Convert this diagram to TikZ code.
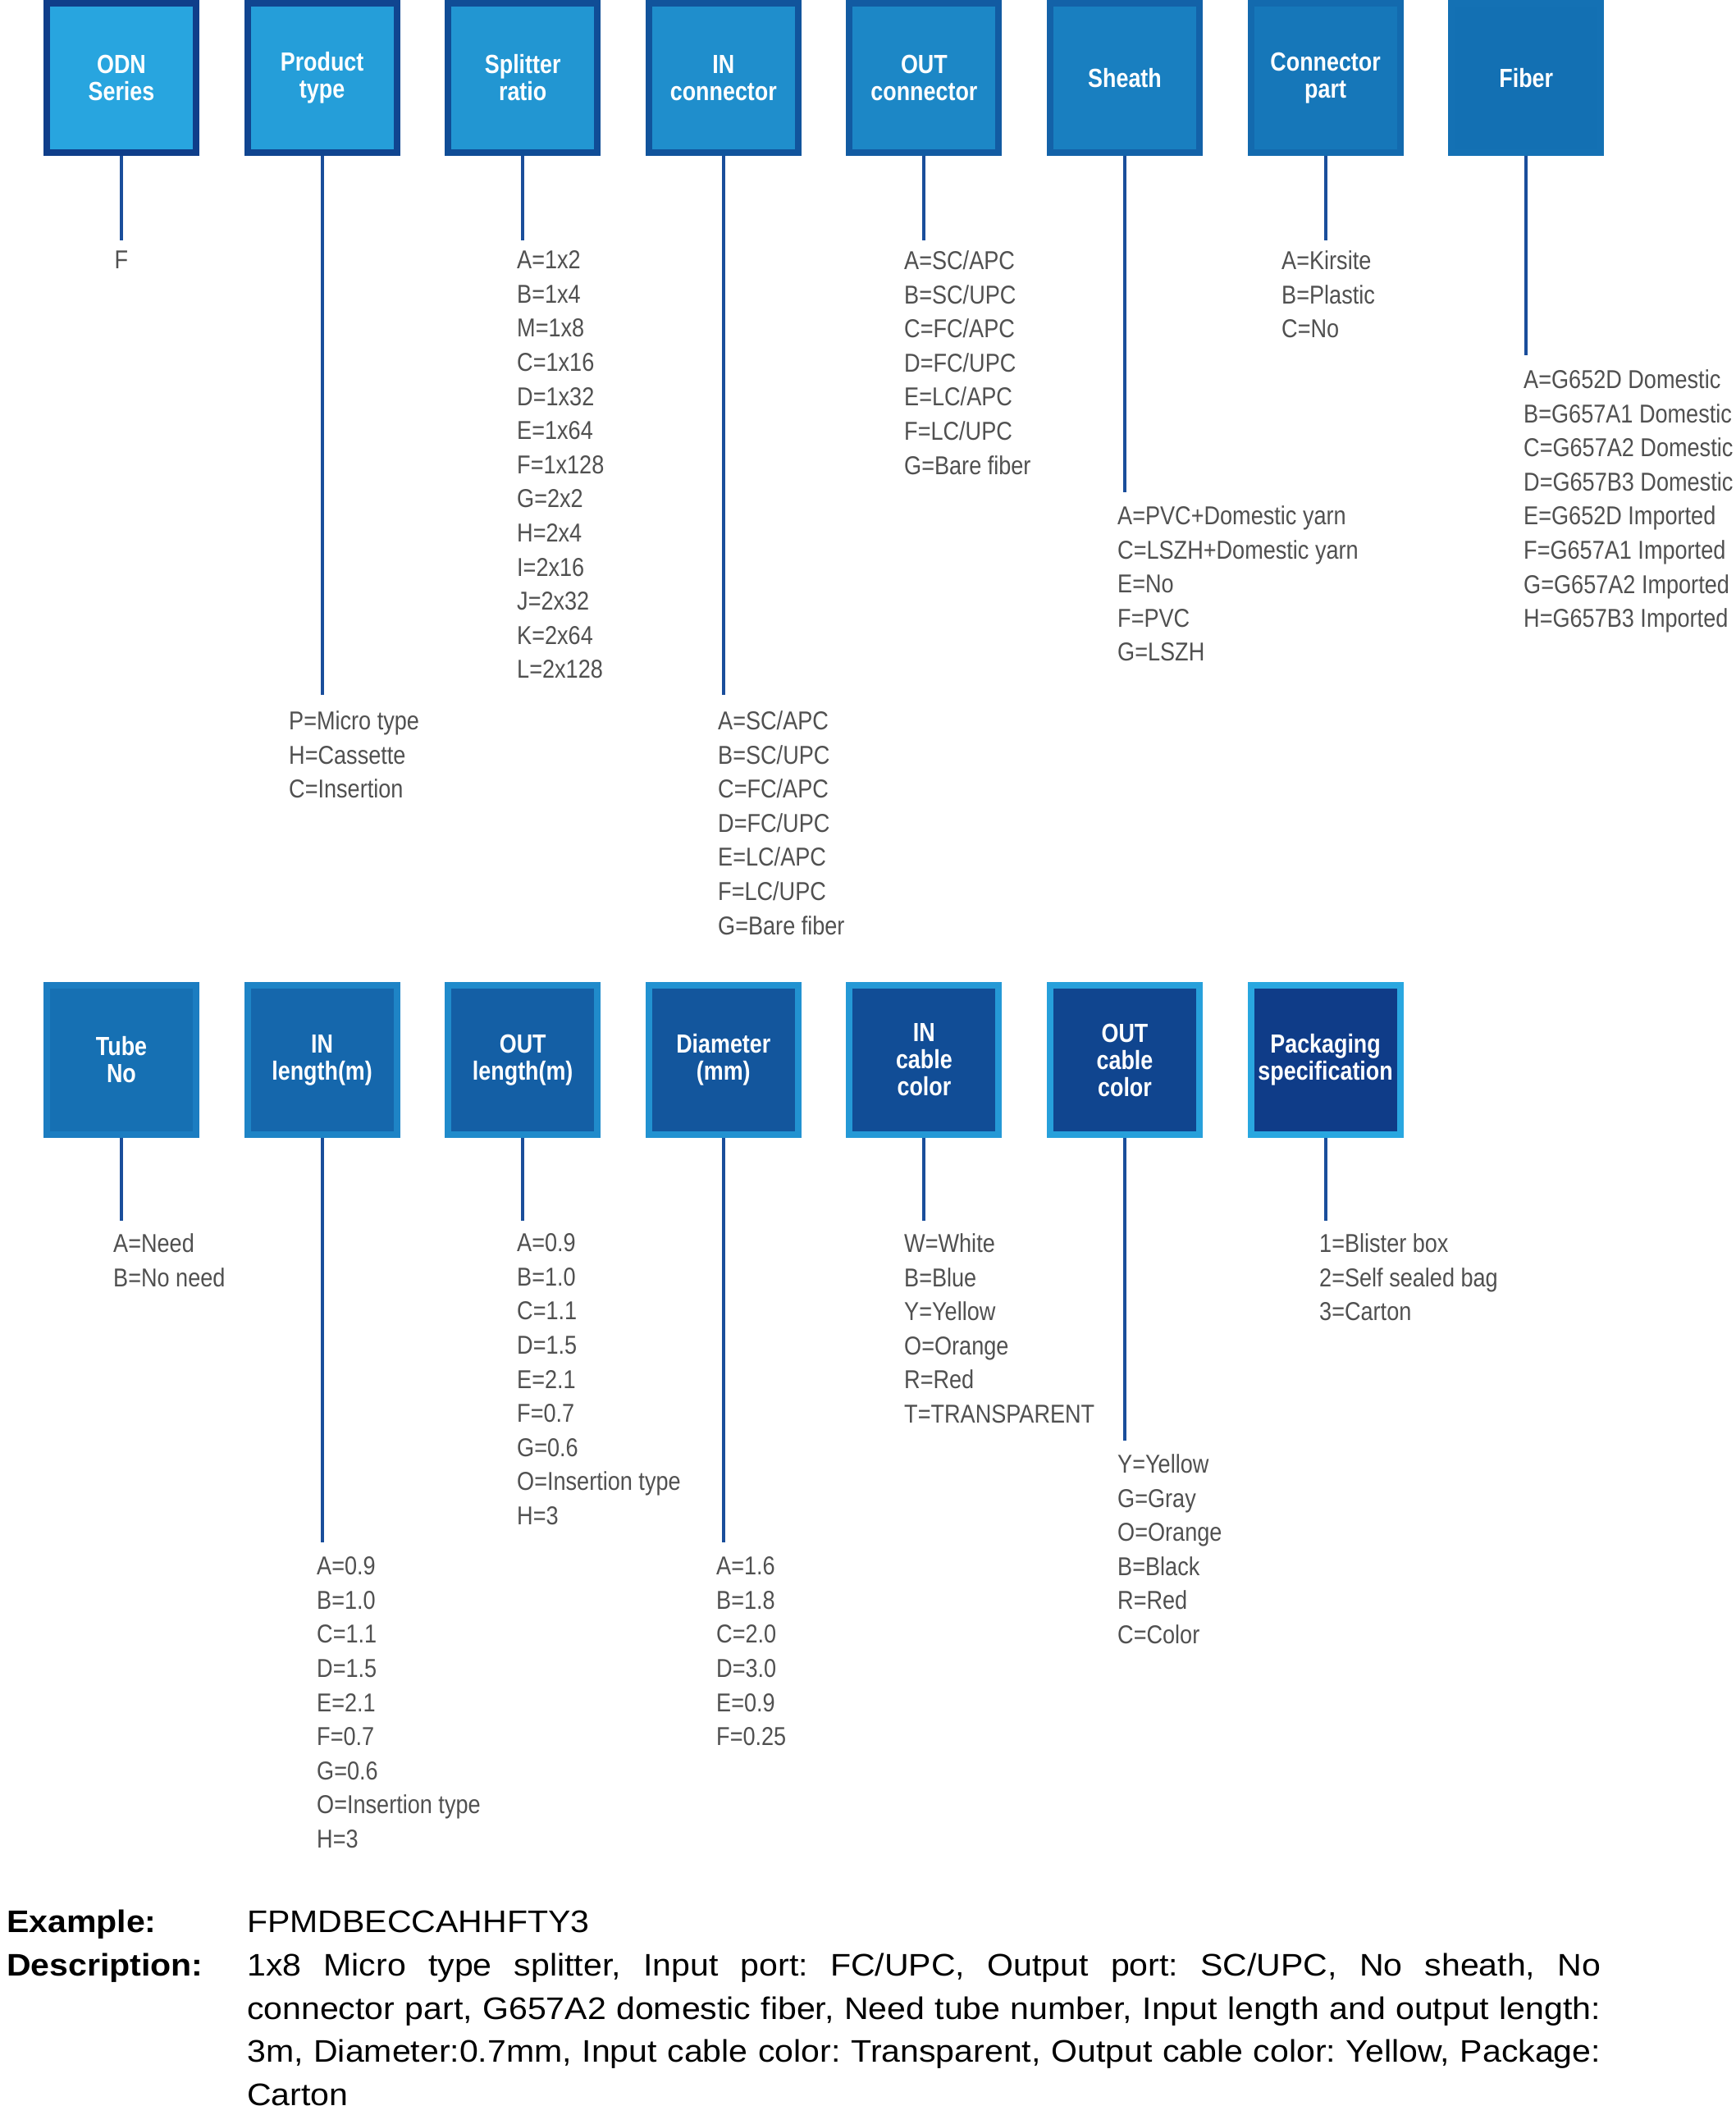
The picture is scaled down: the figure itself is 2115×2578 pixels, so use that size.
\documentclass[tikz,border=0pt]{standalone}
\usepackage{fontspec}
\setmainfont{Liberation Sans}
\newfontfamily\listfont[FakeStretch=0.86]{Liberation Sans}
\newfontfamily\boxfont[FakeStretch=0.84]{Liberation Sans}
\newfontfamily\descfont[FakeStretch=1.08]{Liberation Sans}
\definecolor{tfA}{HTML}{28A5DF}
\definecolor{tfB}{HTML}{1370B3}
\definecolor{tbA}{HTML}{0F3E8A}
\definecolor{tbB}{HTML}{1471B4}
\definecolor{bfA}{HTML}{1670B3}
\definecolor{bfB}{HTML}{0F3C88}
\definecolor{bbA}{HTML}{1C7DC1}
\definecolor{bbB}{HTML}{29A7E0}
\definecolor{connc}{HTML}{1A4E9B}
\definecolor{listc}{HTML}{505050}
\tikzset{
  boxbase/.style={rectangle, line width=8pt, minimum size=182pt, inner sep=0pt,
    text=white, align=center, font=\boxfont\bfseries\fontsize{32}{33}\selectfont},
  tbox/.style={boxbase, fill=tfB!#1!tfA, draw=tbB!#1!tbA},
  bbox/.style={boxbase, fill=bfB!#1!bfA, draw=bbB!#1!bbA},
  conn/.style={draw=connc, line width=4pt},
  listtext/.style={anchor=north west, inner sep=0pt, align=left, text=listc,
    font=\listfont\fontsize{31.5}{41.6}\selectfont},
  labtext/.style={anchor=base west, inner sep=0pt, text=black,
    font=\descfont\bfseries\fontsize{38}{52.6}\selectfont},
  valtext/.style={inner sep=0pt, text=black,
    font=\descfont\fontsize{38}{52.6}\selectfont\frenchspacing},
}
\begin{document}
\begin{tikzpicture}[x=1pt,y=-1pt]
\useasboundingbox (0,0) rectangle (2115,2578);
% ---------- top row boxes ----------
\node[tbox=0]   (b1) at (148,95)    {ODN\\Series};
\node[tbox=14]  (b2) at (392.6,95)  {Product\\type};
\node[tbox=29]  (b3) at (637.2,95)  {Splitter\\ratio};
\node[tbox=43]  (b4) at (881.8,95)  {IN\\connector};
\node[tbox=57]  (b5) at (1126.4,95) {OUT\\connector};
\node[tbox=71]  (b6) at (1371,95)   {Sheath};
\node[tbox=86]  (b7) at (1615.6,95) {Connector\\part};
\node[tbox=100] (b8) at (1860.2,95) {Fiber};
% ---------- top row lists ----------
\node[listtext, anchor=north] (l1) at (148,305.5) {F};
\node[listtext] (l2) at (352,866.5) {P=Micro type\\H=Cassette\\C=Insertion};
\node[listtext] (l3) at (630,305.5) {A=1x2\\B=1x4\\M=1x8\\C=1x16\\D=1x32\\E=1x64\\F=1x128\\G=2x2\\H=2x4\\I=2x16\\J=2x32\\K=2x64\\L=2x128};
\node[listtext] (l4) at (875,866.5) {A=SC/APC\\B=SC/UPC\\C=FC/APC\\D=FC/UPC\\E=LC/APC\\F=LC/UPC\\G=Bare fiber};
\node[listtext] (l5) at (1102,305.5) {A=SC/APC\\B=SC/UPC\\C=FC/APC\\D=FC/UPC\\E=LC/APC\\F=LC/UPC\\G=Bare fiber};
\node[listtext] (l6) at (1362,616.5) {A=PVC+Domestic yarn\\C=LSZH+Domestic yarn\\E=No\\F=PVC\\G=LSZH};
\node[listtext] (l7) at (1562,305.5) {A=Kirsite\\B=Plastic\\C=No};
\node[listtext] (l8) at (1857,450.5) {A=G652D Domestic\\B=G657A1 Domestic\\C=G657A2 Domestic\\D=G657B3 Domestic\\E=G652D Imported\\F=G657A1 Imported\\G=G657A2 Imported\\H=G657B3 Imported};
% ---------- top row connectors ----------
\coordinate (e1) at (148,293);
\coordinate (e2) at (392.6,847);
\coordinate (e3) at (637.2,293);
\coordinate (e4) at (881.8,847);
\coordinate (e5) at (1126.4,293);
\coordinate (e6) at (1371,600);
\coordinate (e7) at (1615.6,293);
\coordinate (e8) at (1860.2,433);
\foreach \k in {1,...,8} {\draw[conn] (b\k.south) -- (e\k);}
% ---------- bottom row boxes ----------
\node[bbox=0]   (c1) at (148,1292)    {Tube\\No};
\node[bbox=17]  (c2) at (392.6,1292)  {IN\\length(m)};
\node[bbox=33]  (c3) at (637.2,1292)  {OUT\\length(m)};
\node[bbox=50]  (c4) at (881.8,1292)  {Diameter\\(mm)};
\node[bbox=67]  (c5) at (1126.4,1292) {IN\\cable\\color};
\node[bbox=83]  (c6) at (1371,1292)   {OUT\\cable\\color};
\node[bbox=100] (c7) at (1615.6,1292) {Packaging\\specification};
% ---------- bottom row lists ----------
\node[listtext] (m1) at (138,1503.5) {A=Need\\B=No need};
\node[listtext] (m2) at (386,1897.5) {A=0.9\\B=1.0\\C=1.1\\D=1.5\\E=2.1\\F=0.7\\G=0.6\\O=Insertion type\\H=3};
\node[listtext] (m3) at (630,1503.5) {A=0.9\\B=1.0\\C=1.1\\D=1.5\\E=2.1\\F=0.7\\G=0.6\\O=Insertion type\\H=3};
\node[listtext] (m4) at (873,1897.5) {A=1.6\\B=1.8\\C=2.0\\D=3.0\\E=0.9\\F=0.25};
\node[listtext] (m5) at (1102,1503.5) {W=White\\B=Blue\\Y=Yellow\\O=Orange\\R=Red\\T=TRANSPARENT};
\node[listtext] (m6) at (1362,1772.5) {Y=Yellow\\G=Gray\\O=Orange\\B=Black\\R=Red\\C=Color};
\node[listtext] (m7) at (1608,1503.5) {1=Blister box\\2=Self sealed bag\\3=Carton};
% ---------- bottom row connectors ----------
\coordinate (f1) at (148,1488);
\coordinate (f2) at (392.6,1880);
\coordinate (f3) at (637.2,1488);
\coordinate (f4) at (881.8,1880);
\coordinate (f5) at (1126.4,1488);
\coordinate (f6) at (1371,1756);
\coordinate (f7) at (1615.6,1488);
\foreach \k in {1,...,7} {\draw[conn] (c\k.south) -- (f\k);}
% ---------- example / description ----------
\node[labtext] (exl) at (8,2355) {Example:};
\node[valtext, anchor=base west] (exv) at (301,2355) {FPMDBECCAHHFTY3};
\node[labtext] (dsl) at (8,2408) {Description:};
\node[valtext, anchor=north west, text width=1650pt, align=justify] (dsv) at (301,2381)
  {1x8 Micro type splitter, Input port: FC/UPC, Output port: SC/UPC, No sheath, No\linebreak
   connector part, G657A2 domestic fiber, Need tube number, Input length and output length:\linebreak
   3m, Diameter:0.7mm, Input cable color: Transparent, Output cable color: Yellow, Package:\linebreak
   Carton};
\end{tikzpicture}
\end{document}
